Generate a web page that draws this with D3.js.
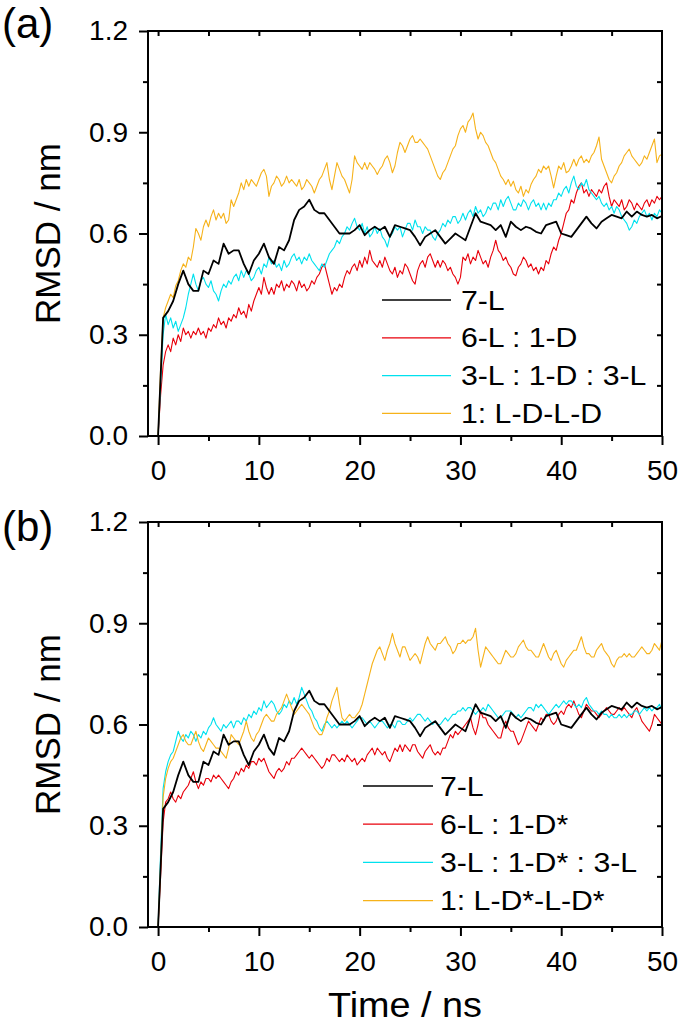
<!DOCTYPE html>
<html><head><meta charset="utf-8">
<script src="https://cdn.jsdelivr.net/npm/d3@7"></script>
<style>html,body{margin:0;padding:0;background:#fff;}svg{display:block;}</style>
</head><body>
<svg id="chart" width="681" height="1025"></svg>
<script>
// ---------- data ----------
const seriesNamesA = ["7-L", "6-L : 1-D", "3-L : 1-D : 3-L", "1: L-D-L-D"];
const seriesNamesB = ["7-L", "6-L : 1-D*", "3-L : 1-D* : 3-L", "1: L-D*-L-D*"];
const seriesColors = ["#000000", "#e8000b", "#00e1ee", "#f6b21a"];
const xTicks = [0, 10, 20, 30, 40, 50];
const yTicks = [0.0, 0.3, 0.6, 0.9, 1.2];
const panelLabels = ["(a)", "(b)"];
const timeEnd = 50;

// 7-L (same in both panels), sampled every 0.5 ns
const rmsd7L = [0.00,0.35,0.37,0.40,0.45,0.49,0.45,0.43,0.43,0.49,0.48,0.52,0.51,0.57,0.54,0.55,0.55,0.51,0.48,0.52,
0.54,0.57,0.53,0.51,0.56,0.55,0.58,0.64,0.67,0.68,0.70,0.67,0.66,0.66,0.64,0.62,0.60,0.60,0.60,0.61,
0.625,0.595,0.61,0.62,0.61,0.62,0.59,0.625,0.62,0.615,0.61,0.59,0.565,0.59,0.60,0.61,0.59,0.57,0.585,0.60,
0.59,0.58,0.62,0.66,0.635,0.63,0.625,0.61,0.625,0.59,0.635,0.62,0.61,0.62,0.615,0.605,0.60,0.625,0.63,0.635,
0.60,0.595,0.59,0.61,0.63,0.65,0.63,0.615,0.635,0.645,0.655,0.65,0.645,0.665,0.65,0.665,0.655,0.65,0.655,0.645,0.652];

// panel (a), sampled every 0.25 ns
const rmsdA_6L1D = [0,0.12,0.21,0.25,0.27,0.25,0.29,0.27,0.30,0.28,0.32,0.30,0.31,0.29,0.31,0.30,0.32,0.30,0.31,0.29,
0.32,0.31,0.33,0.32,0.35,0.33,0.34,0.32,0.35,0.34,0.36,0.35,0.38,0.36,0.37,0.35,0.39,0.37,0.40,0.42,
0.44,0.42,0.47,0.44,0.42,0.44,0.42,0.45,0.44,0.46,0.43,0.45,0.44,0.46,0.45,0.43,0.46,0.44,0.45,0.43,
0.44,0.46,0.45,0.47,0.48,0.50,0.51,0.48,0.45,0.42,0.44,0.43,0.45,0.44,0.47,0.49,0.48,0.50,0.51,0.49,
0.52,0.50,0.53,0.51,0.55,0.52,0.51,0.50,0.52,0.50,0.53,0.51,0.49,0.48,0.50,0.47,0.49,0.48,0.51,0.50,
0.48,0.46,0.45,0.49,0.51,0.52,0.50,0.53,0.54,0.52,0.50,0.52,0.50,0.52,0.51,0.49,0.50,0.48,0.47,0.45,
0.47,0.53,0.52,0.54,0.51,0.53,0.52,0.55,0.53,0.51,0.52,0.50,0.53,0.55,0.58,0.55,0.54,0.52,0.53,0.51,
0.50,0.48,0.475,0.50,0.51,0.53,0.52,0.50,0.51,0.49,0.50,0.48,0.50,0.49,0.52,0.51,0.54,0.56,0.55,0.58,
0.60,0.63,0.66,0.67,0.70,0.69,0.72,0.74,0.75,0.72,0.73,0.71,0.73,0.72,0.71,0.73,0.72,0.74,0.75,0.71,
0.68,0.70,0.69,0.68,0.70,0.67,0.68,0.70,0.69,0.67,0.69,0.68,0.67,0.69,0.70,0.68,0.70,0.69,0.71,0.70,0.71];

const rmsdA_3L1D3L = [0,0.15,0.30,0.36,0.33,0.35,0.32,0.34,0.31,0.33,0.35,0.38,0.42,0.45,0.48,0.45,0.43,0.46,0.47,0.45,
0.44,0.46,0.43,0.42,0.40,0.43,0.45,0.44,0.46,0.45,0.47,0.48,0.46,0.49,0.47,0.49,0.48,0.46,0.47,0.49,
0.50,0.48,0.51,0.50,0.53,0.51,0.52,0.50,0.51,0.49,0.52,0.50,0.51,0.53,0.54,0.52,0.53,0.51,0.53,0.52,
0.54,0.52,0.51,0.50,0.49,0.51,0.50,0.52,0.54,0.55,0.56,0.58,0.57,0.59,0.60,0.62,0.61,0.63,0.645,0.62,
0.61,0.63,0.60,0.62,0.59,0.60,0.62,0.60,0.615,0.59,0.58,0.56,0.59,0.60,0.62,0.61,0.62,0.59,0.61,0.63,
0.63,0.61,0.64,0.62,0.62,0.60,0.62,0.61,0.61,0.59,0.58,0.60,0.61,0.63,0.62,0.64,0.63,0.65,0.65,0.63,
0.64,0.66,0.64,0.66,0.67,0.65,0.68,0.66,0.67,0.65,0.66,0.68,0.67,0.69,0.69,0.67,0.70,0.68,0.70,0.71,
0.69,0.67,0.67,0.69,0.68,0.70,0.69,0.67,0.69,0.70,0.68,0.69,0.67,0.69,0.67,0.69,0.68,0.70,0.70,0.72,
0.71,0.73,0.74,0.72,0.75,0.77,0.74,0.73,0.75,0.74,0.76,0.73,0.72,0.71,0.70,0.71,0.69,0.68,0.69,0.67,
0.68,0.66,0.68,0.67,0.65,0.64,0.63,0.61,0.62,0.64,0.63,0.65,0.66,0.67,0.65,0.66,0.64,0.66,0.65,0.67,0.66];

const rmsdA_LDLD = [0,0.20,0.35,0.38,0.40,0.42,0.41,0.445,0.46,0.49,0.51,0.50,0.53,0.52,0.56,0.615,0.60,0.58,0.62,0.64,
0.62,0.65,0.67,0.64,0.66,0.645,0.66,0.63,0.64,0.70,0.68,0.70,0.72,0.75,0.73,0.76,0.74,0.76,0.75,0.74,
0.76,0.78,0.79,0.77,0.71,0.74,0.75,0.77,0.76,0.74,0.75,0.77,0.75,0.76,0.75,0.74,0.76,0.73,0.74,0.76,
0.75,0.74,0.72,0.74,0.76,0.77,0.79,0.81,0.76,0.73,0.77,0.81,0.79,0.77,0.76,0.74,0.72,0.76,0.83,0.81,
0.80,0.79,0.81,0.79,0.81,0.80,0.79,0.775,0.79,0.80,0.82,0.83,0.81,0.78,0.80,0.84,0.87,0.86,0.84,0.86,
0.88,0.89,0.87,0.87,0.88,0.87,0.86,0.85,0.83,0.81,0.79,0.77,0.76,0.78,0.79,0.81,0.83,0.85,0.86,0.89,
0.91,0.92,0.90,0.93,0.94,0.957,0.91,0.88,0.90,0.89,0.87,0.86,0.84,0.82,0.81,0.79,0.77,0.76,0.745,0.76,
0.74,0.755,0.73,0.72,0.74,0.71,0.73,0.72,0.745,0.76,0.77,0.79,0.78,0.80,0.79,0.80,0.77,0.735,0.77,0.80,
0.79,0.81,0.78,0.785,0.80,0.82,0.80,0.82,0.83,0.81,0.82,0.81,0.83,0.84,0.86,0.886,0.82,0.80,0.78,0.76,
0.75,0.77,0.78,0.80,0.81,0.83,0.84,0.85,0.83,0.82,0.81,0.80,0.81,0.83,0.82,0.84,0.86,0.88,0.81,0.83,0.835];

// panel (b), sampled every 0.25 ns
const rmsdB_6L1D = [0,0.15,0.31,0.37,0.38,0.40,0.38,0.37,0.39,0.38,0.40,0.41,0.42,0.44,0.46,0.43,0.41,0.43,0.42,0.44,
0.44,0.43,0.45,0.44,0.45,0.44,0.43,0.42,0.41,0.43,0.44,0.46,0.45,0.47,0.46,0.48,0.47,0.49,0.49,0.48,
0.50,0.49,0.50,0.48,0.46,0.45,0.44,0.46,0.47,0.46,0.47,0.49,0.48,0.50,0.50,0.51,0.52,0.53,0.52,0.51,
0.50,0.51,0.50,0.49,0.48,0.47,0.48,0.50,0.49,0.51,0.51,0.50,0.49,0.50,0.49,0.51,0.50,0.49,0.50,0.48,
0.49,0.50,0.49,0.51,0.52,0.53,0.51,0.53,0.52,0.51,0.52,0.50,0.49,0.51,0.53,0.52,0.54,0.52,0.54,0.53,
0.52,0.54,0.54,0.52,0.51,0.50,0.52,0.53,0.54,0.52,0.51,0.52,0.51,0.53,0.53,0.55,0.57,0.56,0.58,0.57,
0.58,0.59,0.60,0.61,0.62,0.59,0.57,0.60,0.64,0.62,0.62,0.60,0.59,0.58,0.57,0.56,0.56,0.59,0.61,0.59,
0.58,0.58,0.56,0.54,0.55,0.57,0.59,0.61,0.60,0.59,0.58,0.60,0.62,0.61,0.63,0.63,0.61,0.60,0.61,0.63,
0.64,0.63,0.65,0.66,0.65,0.67,0.65,0.63,0.62,0.64,0.66,0.65,0.64,0.64,0.63,0.62,0.63,0.64,0.65,0.64,
0.63,0.63,0.64,0.65,0.64,0.65,0.64,0.63,0.62,0.64,0.65,0.63,0.61,0.60,0.59,0.58,0.60,0.63,0.62,0.61,0.60];

const rmsdB_3L1D3L = [0,0.22,0.41,0.46,0.49,0.51,0.52,0.55,0.58,0.56,0.55,0.57,0.56,0.58,0.57,0.55,0.57,0.56,0.58,0.57,
0.59,0.60,0.62,0.60,0.59,0.58,0.60,0.59,0.60,0.61,0.59,0.61,0.61,0.60,0.62,0.61,0.63,0.62,0.64,0.63,
0.65,0.64,0.67,0.65,0.66,0.67,0.66,0.64,0.63,0.64,0.66,0.65,0.67,0.66,0.68,0.66,0.68,0.71,0.69,0.67,
0.65,0.64,0.62,0.61,0.59,0.58,0.60,0.61,0.60,0.59,0.60,0.59,0.60,0.61,0.60,0.61,0.60,0.59,0.60,0.61,
0.62,0.62,0.61,0.60,0.61,0.60,0.59,0.60,0.61,0.61,0.60,0.59,0.60,0.60,0.59,0.61,0.61,0.60,0.60,0.61,
0.62,0.61,0.62,0.63,0.63,0.62,0.61,0.62,0.61,0.60,0.61,0.60,0.60,0.61,0.62,0.61,0.62,0.63,0.63,0.64,
0.64,0.65,0.64,0.65,0.65,0.64,0.63,0.64,0.64,0.65,0.64,0.66,0.65,0.64,0.63,0.62,0.62,0.63,0.64,0.64,
0.64,0.63,0.62,0.63,0.62,0.63,0.64,0.65,0.65,0.64,0.66,0.65,0.66,0.65,0.64,0.63,0.64,0.65,0.66,0.65,
0.66,0.67,0.66,0.67,0.67,0.66,0.65,0.66,0.65,0.67,0.68,0.66,0.65,0.64,0.64,0.63,0.64,0.63,0.63,0.62,
0.63,0.62,0.62,0.63,0.62,0.63,0.62,0.63,0.63,0.64,0.64,0.63,0.64,0.65,0.64,0.65,0.64,0.65,0.65,0.66,0.64];

const rmsdB_LDLD = [0,0.18,0.385,0.44,0.47,0.49,0.50,0.52,0.54,0.56,0.57,0.55,0.54,0.54,0.56,0.58,0.55,0.53,0.52,0.54,
0.56,0.55,0.54,0.53,0.53,0.52,0.51,0.50,0.53,0.57,0.56,0.55,0.54,0.56,0.58,0.61,0.58,0.56,0.55,0.57,
0.58,0.60,0.62,0.63,0.62,0.61,0.61,0.63,0.64,0.65,0.67,0.69,0.67,0.65,0.63,0.64,0.65,0.66,0.65,0.64,
0.63,0.61,0.59,0.58,0.57,0.57,0.59,0.62,0.64,0.67,0.69,0.71,0.66,0.62,0.61,0.62,0.63,0.62,0.62,0.63,
0.64,0.66,0.69,0.72,0.75,0.78,0.80,0.82,0.83,0.81,0.79,0.82,0.84,0.87,0.84,0.82,0.80,0.83,0.83,0.81,
0.79,0.80,0.81,0.80,0.78,0.81,0.84,0.86,0.84,0.83,0.82,0.84,0.84,0.85,0.86,0.84,0.83,0.81,0.82,0.84,
0.84,0.85,0.84,0.85,0.85,0.86,0.885,0.82,0.77,0.80,0.83,0.82,0.81,0.80,0.79,0.78,0.78,0.80,0.82,0.81,
0.80,0.80,0.81,0.83,0.84,0.85,0.83,0.82,0.82,0.81,0.80,0.80,0.82,0.84,0.82,0.80,0.79,0.81,0.82,0.80,
0.78,0.77,0.79,0.80,0.81,0.82,0.82,0.84,0.86,0.83,0.81,0.81,0.80,0.80,0.82,0.83,0.84,0.82,0.81,0.80,
0.78,0.77,0.79,0.80,0.80,0.81,0.80,0.81,0.80,0.80,0.81,0.82,0.83,0.82,0.81,0.81,0.82,0.84,0.83,0.82,0.85];

// ---------- layout ----------
const svg = d3.select("#chart");
const FONT = "'Liberation Sans', Arial, Helvetica, sans-serif";
const plotLeft = 148, plotRight = 662;
const panels = [
  { top: 31, bottom: 436, names: seriesNamesA, label: panelLabels[0], labelY: 38,
    series: [rmsd7L, rmsdA_6L1D, rmsdA_3L1D3L, rmsdA_LDLD],
    legend: { x1: 382, x2: 451, tx: 461, y0: 300, dy: 37.8 } },
  { top: 522, bottom: 927, names: seriesNamesB, label: panelLabels[1], labelY: 541,
    series: [rmsd7L, rmsdB_6L1D, rmsdB_3L1D3L, rmsdB_LDLD],
    legend: { x1: 363, x2: 433, tx: 440, y0: 786, dy: 38.2 } }
];

const x = d3.scaleLinear().domain([-1, 50]).range([plotLeft, plotRight]);

panels.forEach((p, pi) => {
  const y = d3.scaleLinear().domain([0, 1.2]).range([p.bottom, p.top]);
  const g = svg.append("g");

  const order = [1, 2, 3, 0];
  order.forEach(si => {
    const vals = p.series[si];
    const n = vals.length;
    const pts = vals.map((v, i) => [i * timeEnd / (n - 1), v]);
    const line = d3.line().x(d => x(d[0])).y(d => y(d[1]));
    g.append("path").attr("d", line(pts)).attr("fill", "none")
      .attr("stroke", seriesColors[si]).attr("stroke-width", si === 0 ? 1.8 : 1.1)
      .attr("stroke-linejoin", "round");
  });

  const styleAxis = sel => {
    sel.select(".domain").remove();
    sel.selectAll(".tick line").attr("stroke", "#000").attr("stroke-width", 2);
  };
  g.append("g").attr("transform", `translate(${plotLeft},0)`)
    .call(d3.axisLeft(y).tickValues(yTicks).tickSize(9).tickPadding(11).tickFormat(d3.format(".1f")))
    .call(styleAxis)
    .call(a => a.selectAll("text").attr("font-family", FONT).attr("font-size", 28).attr("fill", "#000"));
  g.append("g").attr("transform", `translate(${plotLeft},0)`)
    .call(d3.axisLeft(y).tickValues([0.15, 0.45, 0.75, 1.05]).tickSize(5).tickFormat(""))
    .call(styleAxis);
  g.append("g").attr("transform", `translate(0,${p.bottom})`)
    .call(d3.axisBottom(x).tickValues(xTicks).tickSize(9).tickFormat(d3.format("d")))
    .call(styleAxis)
    .call(a => a.selectAll("text").attr("font-family", FONT).attr("font-size", 28).attr("fill", "#000")
      .attr("dy", null).attr("y", 44));
  g.append("g").attr("transform", `translate(0,${p.bottom})`)
    .call(d3.axisBottom(x).tickValues([5, 15, 25, 35, 45]).tickSize(5).tickFormat(""))
    .call(styleAxis);
  g.append("g").attr("transform", `translate(0,${p.top})`)
    .call(d3.axisTop(x).tickValues([0, 5, 10, 15, 20, 25, 30, 35, 40, 45]).tickSize(-5).tickFormat(""))
    .call(styleAxis);
  g.append("g").attr("transform", `translate(${plotRight},0)`)
    .call(d3.axisRight(y).tickValues([0.15, 0.3, 0.45, 0.6, 0.75, 0.9, 1.05]).tickSize(-5).tickFormat(""))
    .call(styleAxis);

  g.append("rect").attr("x", plotLeft).attr("y", p.top)
    .attr("width", plotRight - plotLeft).attr("height", p.bottom - p.top)
    .attr("fill", "none").attr("stroke", "#000").attr("stroke-width", 2);

  g.append("text").attr("transform", `translate(47,${(p.top + p.bottom) / 2}) rotate(-90)`)
    .attr("text-anchor", "middle").attr("dominant-baseline", "central")
    .attr("font-family", FONT).attr("font-size", 35).text("RMSD / nm");

  g.append("text").attr("x", 2).attr("y", p.labelY)
    .attr("font-family", FONT).attr("font-size", 42).text(p.label);

  p.names.forEach((nm, i) => {
    const ly = p.legend.y0 + i * p.legend.dy;
    g.append("line").attr("x1", p.legend.x1).attr("x2", p.legend.x2).attr("y1", ly).attr("y2", ly)
      .attr("stroke", seriesColors[i]).attr("stroke-width", i === 0 ? 1.6 : 1.3);
    g.append("text").attr("transform", `translate(${p.legend.tx},${ly}) scale(1.08,1)`)
      .attr("dominant-baseline", "central")
      .attr("font-family", FONT).attr("font-size", 28).text(nm);
  });
});

svg.append("text").attr("transform", `translate(${(plotLeft + plotRight) / 2},1017) scale(1.08,1)`)
  .attr("text-anchor", "middle").attr("font-family", FONT).attr("font-size", 35).text("Time / ns");
</script>
</body></html>
